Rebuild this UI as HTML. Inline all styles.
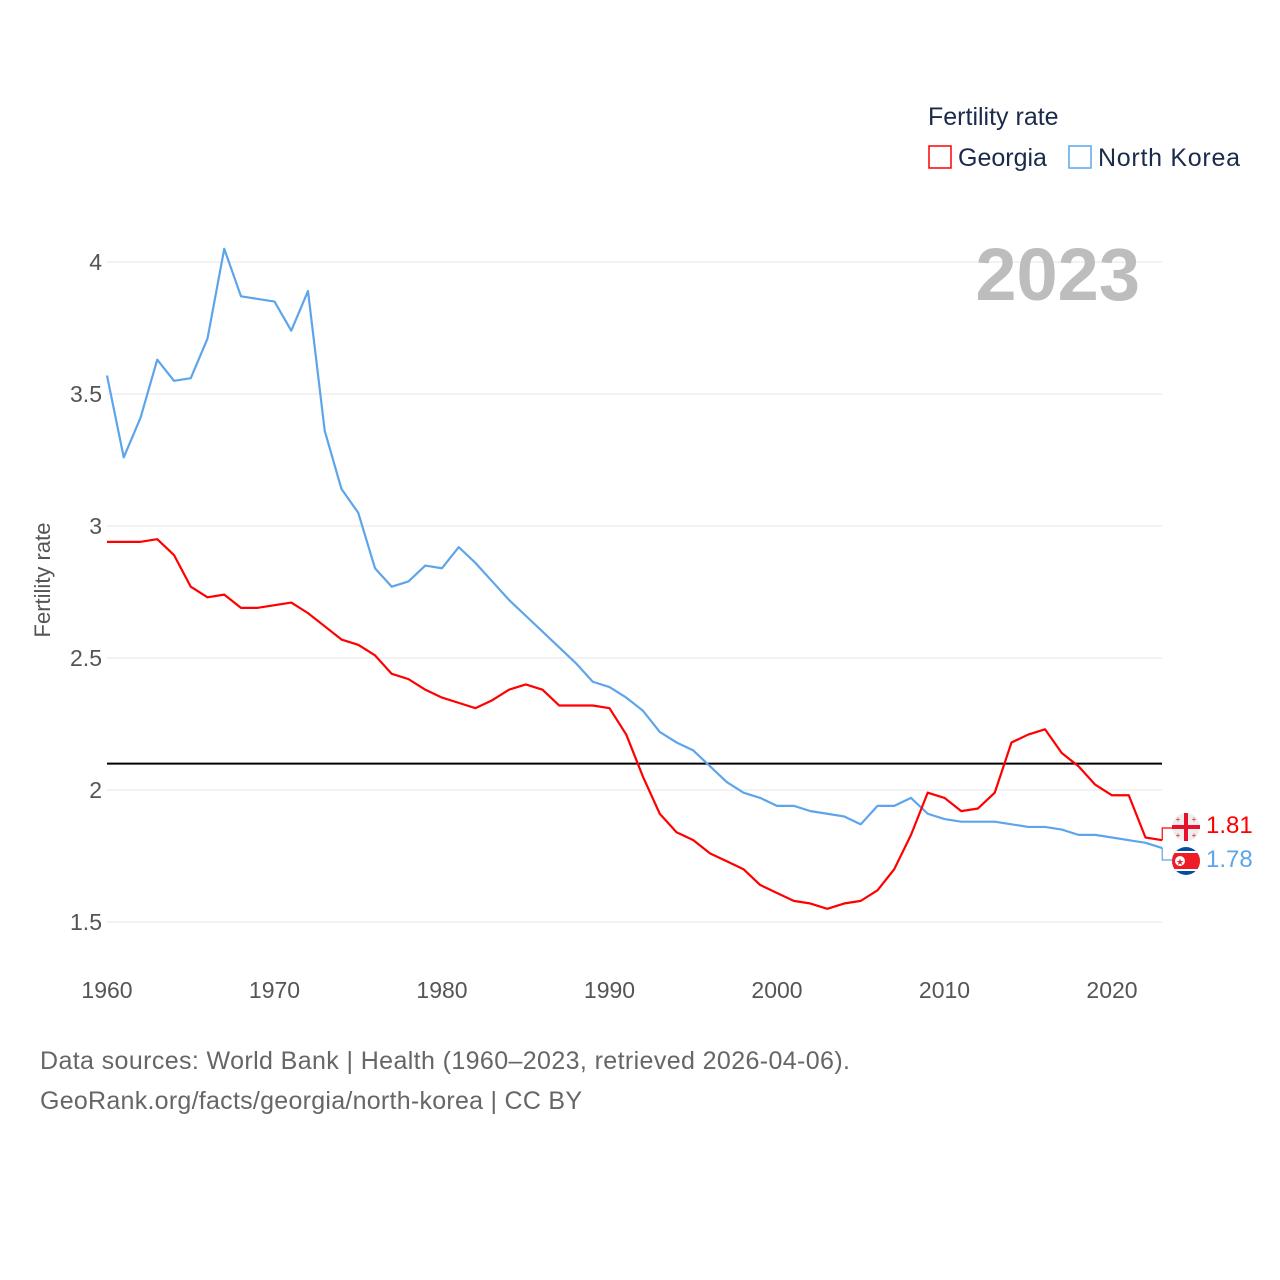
<!DOCTYPE html>
<html><head><meta charset="utf-8"><style>
html,body{margin:0;padding:0;background:#fff;width:1280px;height:1280px;overflow:hidden}
svg text{font-family:"Liberation Sans",sans-serif}
</style></head><body>
<svg id="chart" width="1280" height="1280" xmlns="http://www.w3.org/2000/svg">
<g id="grid"></g>
<g id="lines"></g>
<text x="928" y="125" font-size="25" fill="#1a2a4a">Fertility rate</text>
<rect x="929" y="146" width="22" height="22" fill="none" stroke="#f00" stroke-width="1.5"/>
<text x="958" y="166" font-size="25" fill="#1a2a4a">Georgia</text>
<rect x="1069" y="146" width="22" height="22" fill="none" stroke="#5da5ea" stroke-width="1.5"/>
<text x="1098" y="166" font-size="25" fill="#1a2a4a" textLength="142">North Korea</text>
<text x="1140" y="300" font-size="74" font-weight="bold" fill="#bdbdbd" text-anchor="end">2023</text>
<text transform="translate(50,580) rotate(-90)" font-size="22" fill="#555" text-anchor="middle">Fertility rate</text>
<text x="40" y="1069" font-size="25" fill="#666" textLength="810">Data sources: World Bank | Health (1960–2023, retrieved 2026-04-06).</text>
<text x="40" y="1109" font-size="25" fill="#666" textLength="542">GeoRank.org/facts/georgia/north-korea | CC BY</text>
<g>
<circle cx="1186" cy="827" r="14" fill="#eee"/>
<rect x="1172" y="825" width="28" height="4" fill="#e8112d"/>
<rect x="1184" y="813" width="4" height="28" fill="#e8112d"/>
<text x="1178" y="822" font-size="8" fill="#e8112d" text-anchor="middle">+</text><text x="1194" y="822" font-size="8" fill="#e8112d" text-anchor="middle">+</text>
<text x="1178" y="838" font-size="8" fill="#e8112d" text-anchor="middle">+</text><text x="1194" y="838" font-size="8" fill="#e8112d" text-anchor="middle">+</text>
</g>
<g>
<clipPath id="nkc"><circle cx="1186" cy="861" r="14"/></clipPath>
<g clip-path="url(#nkc)"><rect x="1170" y="845" width="32" height="32" fill="#024fa2"/><rect x="1170" y="851" width="32" height="20" fill="#fff"/><rect x="1170" y="853" width="32" height="16" fill="#ed1c27"/><circle cx="1180" cy="861" r="5" fill="#fff"/><text x="1180" y="865" font-size="9" fill="#ed1c27" text-anchor="middle">★</text></g>
</g>
<text x="1206" y="833" font-size="24" fill="#f00">1.81</text>
<text x="1206" y="867" font-size="24" fill="#5da5ea">1.78</text>
</svg>
<script>
const years=[];for(let y=1960;y<=2023;y++)years.push(y);
const georgia=[2.94,2.94,2.94,2.95,2.89,2.77,2.73,2.74,2.69,2.69,2.70,2.71,2.67,2.62,2.57,2.55,2.51,2.44,2.42,2.38,2.35,2.33,2.31,2.34,2.38,2.40,2.38,2.32,2.32,2.32,2.31,2.21,2.05,1.91,1.84,1.81,1.76,1.73,1.70,1.64,1.61,1.58,1.57,1.55,1.57,1.58,1.62,1.70,1.83,1.99,1.97,1.92,1.93,1.99,2.18,2.21,2.23,2.14,2.09,2.02,1.98,1.98,1.82,1.81];
const northKorea=[3.57,3.26,3.41,3.63,3.55,3.56,3.71,4.05,3.87,3.86,3.85,3.74,3.89,3.36,3.14,3.05,2.84,2.77,2.79,2.85,2.84,2.92,2.86,2.79,2.72,2.66,2.60,2.54,2.48,2.41,2.39,2.35,2.30,2.22,2.18,2.15,2.09,2.03,1.99,1.97,1.94,1.94,1.92,1.91,1.90,1.87,1.94,1.94,1.97,1.91,1.89,1.88,1.88,1.88,1.87,1.86,1.86,1.85,1.83,1.83,1.82,1.81,1.80,1.78];
const yTicks=[1.5,2,2.5,3,3.5,4];
const xTicks=[1960,1970,1980,1990,2000,2010,2020];
const replacement=2.1;
const X=y=>107+(y-1960)*(1005/60);
const Y=v=>790-(v-2)*264;
const NS="http://www.w3.org/2000/svg";
const grid=document.getElementById('grid'),lines=document.getElementById('lines');
function mk(t,a,p){const e=document.createElementNS(NS,t);for(const k in a)e.setAttribute(k,a[k]);p.appendChild(e);return e;}
yTicks.forEach(v=>{
 const l=mk('line',{x1:107,x2:1162,y1:Y(v),y2:Y(v),stroke:'#e6e6e6','stroke-width':1},grid);
 
 
 const t=mk('text',{x:102,y:Y(v)+8,'font-size':23,fill:'#555','text-anchor':'end'},grid);t.textContent=String(v);
 
 
});
xTicks.forEach(v=>{
 const t=mk('text',{x:X(v),y:998,'font-size':23,fill:'#555','text-anchor':'middle'},grid);t.textContent=String(v);
 
 
});
const rl=mk('line',{x1:107,x2:1162,y1:Y(replacement),y2:Y(replacement),stroke:'#000','stroke-width':2},lines);


function series(vals,color,name){
 const p=mk('polyline',{points:vals.map((v,i)=>X(years[i])+','+Y(v)).join(' '),fill:'none',stroke:color,'stroke-width':2.2,'stroke-linejoin':'round'},lines);
 
 
}
series(northKorea,'#5da5ea','north-korea-line');
series(georgia,'#f00','georgia-line');
const ex=X(2023);
const c1=mk('polyline',{points:`${ex},${Y(georgia[63])} ${ex},828 1172,828`,fill:'none',stroke:'#f00','stroke-width':1.2},lines);


const c2=mk('polyline',{points:`${ex},${Y(northKorea[63])} ${ex},860 1172,860`,fill:'none',stroke:'#5da5ea','stroke-width':1.2},lines);


</script>
</body></html>
